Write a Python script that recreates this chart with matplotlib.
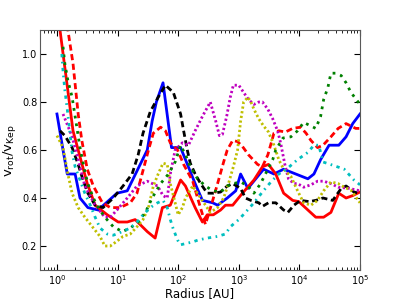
import matplotlib
matplotlib.use("Agg")
import matplotlib.pyplot as plt
import numpy as np

# log10(radius / AU) and v_rot / v_Kep
blue_logr = [0.0, 0.10, 0.17, 0.30, 0.38, 0.51, 0.68, 0.99, 1.16, 1.49, 1.57, 1.64, 1.75, 1.89, 2.04,
             2.28, 2.40, 2.57, 2.65, 2.81, 2.95, 3.03, 3.15, 3.41, 3.58, 3.74, 4.14, 4.24, 4.35, 4.49,
             4.65, 4.77, 4.88, 5.0]
blue_v = [0.75, 0.60, 0.50, 0.50, 0.40, 0.36, 0.35, 0.42, 0.43, 0.60, 0.72, 0.80, 0.88, 0.61, 0.61,
          0.46, 0.39, 0.38, 0.37, 0.40, 0.43, 0.50, 0.44, 0.52, 0.50, 0.52, 0.48, 0.50, 0.56, 0.62,
          0.62, 0.655, 0.71, 0.75]

red_logr = [0.0, 0.05, 0.265, 0.35, 0.50, 0.63, 0.83, 1.01, 1.16, 1.29, 1.49, 1.62, 1.74, 1.87, 2.04,
            2.12, 2.28, 2.40, 2.48, 2.58, 2.70, 2.78, 2.90, 3.06, 3.25, 3.39, 3.49, 3.61, 3.74, 3.89,
            3.99, 4.14, 4.27, 4.40, 4.52, 4.65, 4.77, 4.88, 5.0]
red_v = [1.2, 1.1, 0.68, 0.60, 0.46, 0.37, 0.33, 0.30, 0.30, 0.31, 0.26, 0.233, 0.36, 0.37, 0.475,
         0.45, 0.36, 0.30, 0.33, 0.33, 0.35, 0.37, 0.37, 0.42, 0.475, 0.53, 0.54, 0.50, 0.42, 0.39,
         0.385, 0.35, 0.32, 0.32, 0.34, 0.42, 0.40, 0.41, 0.425]

redd_logr = [0.13, 0.18, 0.265, 0.35, 0.41, 0.50, 0.60, 0.75, 0.88, 1.04, 1.21, 1.32, 1.51, 1.59, 1.71,
             1.79, 1.87, 1.99, 2.09, 2.24, 2.32, 2.45, 2.57, 2.65, 2.75, 2.81, 2.90, 2.98, 3.06, 3.16,
             3.31, 3.39, 3.48, 3.58, 3.66, 3.77, 3.89, 4.02, 4.11, 4.19, 4.30, 4.39, 4.52, 4.64, 4.77,
             4.93, 5.0]
redd_v = [1.2, 1.1, 0.96, 0.75, 0.64, 0.52, 0.45, 0.38, 0.36, 0.36, 0.38, 0.42, 0.60, 0.67, 0.695,
          0.68, 0.63, 0.60, 0.54, 0.47, 0.40, 0.29, 0.39, 0.46, 0.55, 0.60, 0.64, 0.635, 0.615, 0.58,
          0.54, 0.53, 0.58, 0.67, 0.68, 0.675, 0.69, 0.695, 0.67, 0.64, 0.61, 0.62, 0.655, 0.69, 0.71,
          0.69, 0.69]

black_logr = [0.05, 0.13, 0.25, 0.35, 0.43, 0.51, 0.63, 0.76, 0.93, 1.09, 1.24, 1.34, 1.42, 1.54, 1.67,
              1.79, 1.92, 2.04, 2.09, 2.15, 2.20, 2.28, 2.37, 2.48, 2.58, 2.70, 2.81, 2.90, 3.03, 3.11,
              3.20, 3.33, 3.39, 3.49, 3.61, 3.74, 3.81, 3.91, 4.02, 4.16, 4.27, 4.39, 4.55, 4.69, 4.77,
              4.90, 5.0]
black_v = [0.68, 0.66, 0.61, 0.54, 0.475, 0.42, 0.37, 0.36, 0.40, 0.45, 0.50, 0.58, 0.67, 0.76, 0.82,
           0.87, 0.84, 0.75, 0.68, 0.60, 0.545, 0.50, 0.46, 0.42, 0.42, 0.425, 0.45, 0.46, 0.44, 0.40,
           0.39, 0.38, 0.365, 0.38, 0.38, 0.35, 0.34, 0.37, 0.39, 0.385, 0.39, 0.40, 0.39, 0.44, 0.45,
           0.425, 0.42]

mag_logr = [0.10, 0.18, 0.25, 0.33, 0.46, 0.63, 0.79, 0.88, 0.99, 1.16, 1.32, 1.49, 1.66, 1.75, 1.82,
            1.87, 1.95, 2.07, 2.17, 2.28, 2.40, 2.53, 2.62, 2.68, 2.73, 2.80, 2.86, 2.91, 3.00, 3.08,
            3.16, 3.25, 3.33, 3.39, 3.48, 3.56, 3.64, 3.69, 3.76, 3.82, 3.91, 3.97, 4.07, 4.19, 4.30,
            4.40, 4.52, 4.64, 4.82, 5.0]
mag_v = [0.75, 0.70, 0.655, 0.58, 0.45, 0.37, 0.32, 0.32, 0.35, 0.40, 0.45, 0.47, 0.45, 0.41, 0.40,
         0.50, 0.60, 0.63, 0.62, 0.68, 0.74, 0.80, 0.72, 0.66, 0.665, 0.74, 0.82, 0.87, 0.87, 0.84,
         0.81, 0.79, 0.80, 0.80, 0.77, 0.73, 0.68, 0.63, 0.54, 0.48, 0.46, 0.46, 0.445, 0.455, 0.47,
         0.47, 0.46, 0.445, 0.44, 0.43]

yel_logr = [0.0, 0.10, 0.18, 0.25, 0.35, 0.46, 0.60, 0.71, 0.79, 0.88, 0.99, 1.09, 1.21, 1.32, 1.42,
            1.51, 1.59, 1.67, 1.75, 1.82, 1.87, 1.95, 2.00, 2.07, 2.12, 2.24, 2.37, 2.53, 2.65, 2.75,
            2.83, 2.91, 2.98, 3.03, 3.08, 3.15, 3.20, 3.25, 3.33, 3.41, 3.49, 3.58, 3.66, 3.74, 3.86,
            3.97, 4.07, 4.19, 4.30, 4.40, 4.52, 4.64, 4.74, 4.85, 5.0]
yel_v = [0.66, 0.61, 0.50, 0.42, 0.36, 0.32, 0.275, 0.24, 0.20, 0.20, 0.22, 0.24, 0.25, 0.28, 0.31,
         0.36, 0.45, 0.50, 0.545, 0.54, 0.46, 0.38, 0.33, 0.36, 0.40, 0.45, 0.40, 0.34, 0.36, 0.40,
         0.46, 0.53, 0.60, 0.72, 0.80, 0.82, 0.80, 0.77, 0.73, 0.70, 0.675, 0.62, 0.56, 0.52, 0.49,
         0.43, 0.38, 0.37, 0.39, 0.43, 0.467, 0.46, 0.445, 0.433, 0.38]

green_logr = [0.10, 0.13, 0.18, 0.25, 0.30, 0.38, 0.46, 0.51, 0.60, 0.68, 0.79, 0.93, 1.08, 1.21,
              1.34, 1.46, 1.57, 1.71, 1.84, 1.95, 2.04, 2.12, 2.20, 2.32, 2.45, 2.57, 2.70, 2.81, 2.91,
              3.03, 3.15, 3.25, 3.36, 3.48, 3.56, 3.61, 3.73, 3.86, 3.97, 4.07, 4.19, 4.27, 4.35, 4.40,
              4.47, 4.52, 4.60, 4.69, 4.77, 4.85, 4.97, 5.0]
green_v = [1.03, 0.96, 0.89, 0.82, 0.74, 0.61, 0.51, 0.46, 0.40, 0.36, 0.32, 0.28, 0.26, 0.275,
           0.30, 0.34, 0.40, 0.46, 0.50, 0.55, 0.62, 0.58, 0.53, 0.48, 0.45, 0.43, 0.425, 0.45, 0.46,
           0.467, 0.45, 0.42, 0.46, 0.52, 0.56, 0.60, 0.65, 0.655, 0.68, 0.715, 0.70, 0.69, 0.74, 0.81,
           0.86, 0.92, 0.92, 0.91, 0.88, 0.84, 0.80, 0.79]

cyan_logr = [0.08, 0.10, 0.13, 0.17, 0.25, 0.30, 0.38, 0.46, 0.55, 0.63, 0.71, 0.83, 0.93, 1.08,
             1.21, 1.32, 1.42, 1.54, 1.66, 1.75, 1.82, 1.87, 1.92, 1.99, 2.04, 2.12, 2.24, 2.33, 2.48,
             2.65, 2.78, 2.86, 3.00, 3.11, 3.25, 3.39, 3.53, 3.66, 3.81, 3.97, 4.14, 4.24, 4.32, 4.39,
             4.57, 4.74, 4.90, 5.0]
cyan_v = [1.0, 0.93, 0.85, 0.77, 0.59, 0.53, 0.475, 0.42, 0.37, 0.32, 0.275, 0.25, 0.245, 0.26,
          0.275, 0.30, 0.33, 0.36, 0.38, 0.39, 0.36, 0.31, 0.27, 0.225, 0.205, 0.21, 0.217, 0.225, 0.233,
          0.24, 0.25, 0.28, 0.31, 0.34, 0.38, 0.425, 0.467, 0.50, 0.525, 0.56, 0.59, 0.62, 0.62, 0.55,
          0.535, 0.52, 0.475, 0.455]

series = [
    (blue_logr, blue_v, "b", "-", None),
    (red_logr, red_v, "r", "-", None),
    (redd_logr, redd_v, "r", "--", (2.2, 1.3)),
    (black_logr, black_v, "k", "--", (2.2, 1.3)),
    (mag_logr, mag_v, "m", ":", (0.8, 0.9)),
    (yel_logr, yel_v, "y", ":", (0.8, 0.9)),
    (green_logr, green_v, "g", ":", (1.0, 1.8)),
    (cyan_logr, cyan_v, "c", "-.", (1.2, 1.6, 0.6, 1.6)),
]

fig = plt.figure(figsize=(4, 3), dpi=100)
ax = fig.add_axes([0.1, 0.1, 0.8, 0.8])

for logr, v, color, ls, dashes in series:
    r = 10.0 ** np.asarray(logr)
    line, = ax.plot(r, v, color=color, ls=ls, lw=2.0)
    if dashes is not None:
        line.set_dashes(dashes)

ax.set_xscale("log")
ax.set_xlim(0.525, 1e5)
ax.set_ylim(0.1, 1.1)
ax.set_yticks([0.2, 0.4, 0.6, 0.8, 1.0])
ax.tick_params(direction="in", top=True, right=True, which="both", labelsize=7, pad=2)
ax.tick_params(which="major", length=4)
ax.tick_params(which="minor", length=2)
for spine in ax.spines.values():
    spine.set_color("0.35")
ax.set_xlabel("Radius [AU]", fontsize=8.5)
ax.xaxis.set_label_coords(0.5, -0.07)
ax.set_ylabel(r"$\mathrm{v_{rot}/v_{Kep}}$", fontsize=9.5)
ax.yaxis.set_label_coords(-0.068, 0.5)

fig.savefig("out.png", dpi=100)
